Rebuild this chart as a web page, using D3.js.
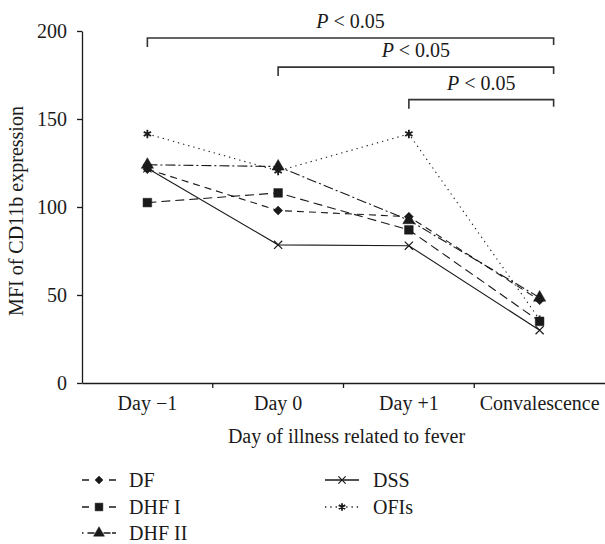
<!DOCTYPE html>
<html>
<head>
<meta charset="utf-8">
<script src="https://cdn.jsdelivr.net/npm/d3@7"></script>
<style>
  body { margin: 0; background: #fff; }
  svg { display: block; font-family: "Liberation Serif", "Times New Roman", serif; }
</style>
</head>
<body>
<div id="chart"></div>
<script>
// categories and series
var days = ["Day \u22121", "Day 0", "Day +1", "Convalescence"];
var groups = ["DF", "DHF I", "DHF II", "DSS", "OFIs"];
var dfValues    = [121.5, 98, 94.5, 47];
var dhf1Values  = [102.5, 108, 87, 35];
var dhf2Values  = [124, 123, 92.5, 48.5];
var dssValues   = [122, 78.5, 78, 30];
var ofiValues   = [141.5, 120.5, 141.5, 36];
var yTicks = [0, 50, 100, 150, 200];
// significance brackets: from category to Convalescence, level (in y units)
var sigFrom  = ["Day \u22121", "Day 0", "Day +1"];
var sigLevel = [196, 179.5, 161];
var sigLabel = ["< 0.05", "< 0.05", "< 0.05"];

var width = 605, height = 544;
var plotL = 82, plotR = 605, plotT = 31, plotB = 383;
var ink = "#1a1a1a";

var svg = d3.select("#chart").append("svg")
	.attr("width", width)
	.attr("height", height);

var x = d3.scaleBand().domain(days).range([plotL, plotR]);
var y = d3.scaleLinear().domain([0, 200]).range([plotB, plotT]);
var cx = function(d) { return x(d) + x.bandwidth() / 2; };

// styles per group
var dashes  = ["7,5", "9,5", "10,3,2,3", null, "1.3,4"];
var symbols = [d3.symbolSquare, d3.symbolSquare, d3.symbolTriangle, d3.symbolTimes, d3.symbolAsterisk];
var sizes   = [40, 75, 65, 45, 50];
var series  = [dfValues, dhf1Values, dhf2Values, dssValues, ofiValues];

// y axis
var yAxis = svg.append("g")
	.attr("transform", "translate(" + plotL + ",0)")
	.call(d3.axisLeft(y).tickValues(yTicks).tickSize(5).tickPadding(10).tickSizeOuter(0));
yAxis.select(".domain").attr("stroke", ink).attr("stroke-width", 1.3);
yAxis.selectAll(".tick line").attr("stroke", ink).attr("stroke-width", 1.3);
yAxis.selectAll("text").attr("font-size", 20).attr("fill", ink).attr("font-family", "Liberation Serif");

// x axis
var xAxis = svg.append("g")
	.attr("transform", "translate(0," + plotB + ")")
	.call(d3.axisBottom(x).tickSize(0).tickPadding(13));
xAxis.select(".domain").attr("stroke", ink).attr("stroke-width", 1.3);
xAxis.selectAll("text").attr("font-size", 20).attr("fill", ink).attr("font-family", "Liberation Serif");
// ticks at the category boundaries
xAxis.selectAll(".bound")
	.data(days.slice(1))
	.enter().append("line")
	.attr("x1", function(d) { return x(d); })
	.attr("x2", function(d) { return x(d); })
	.attr("y1", 0).attr("y2", 5)
	.attr("stroke", ink).attr("stroke-width", 1.3);

// axis titles
svg.append("text")
	.attr("transform", "translate(23," + ((plotT + plotB) / 2 + 4) + ") rotate(-90)")
	.attr("text-anchor", "middle")
	.attr("font-size", 20)
	.attr("fill", ink)
	.text("MFI of CD11b expression");

svg.append("text")
	.attr("x", (plotL + plotR) / 2 + 3)
	.attr("y", 443)
	.attr("text-anchor", "middle")
	.attr("font-size", 20)
	.attr("fill", ink)
	.text("Day of illness related to fever");

// lines
var line = d3.line()
	.x(function(d, i) { return cx(days[i]); })
	.y(function(d) { return y(d); });

series.forEach(function(vals, s) {
	svg.append("path")
		.datum(vals)
		.attr("d", line)
		.attr("fill", "none")
		.attr("stroke", ink)
		.attr("stroke-width", 1.1)
		.attr("stroke-dasharray", dashes[s]);
});

function drawSymbol(g, s, px, py, k) {
	var sym = d3.symbol().type(symbols[s]).size(sizes[s] * (k || 1));
	var open = (s >= 3);
	g.append("path")
		.attr("d", sym())
		.attr("transform", "translate(" + px + "," + py + ")" + (s == 0 ? " rotate(45)" : ""))
		.attr("fill", open ? "none" : ink)
		.attr("stroke", ink)
		.attr("stroke-width", s == 4 ? 1.8 : open ? 1.2 : 0.5);
}

series.forEach(function(vals, s) {
	vals.forEach(function(v, i) {
		drawSymbol(svg, s, cx(days[i]), y(v));
	});
});

// significance brackets
var endX = cx("Convalescence") + 14;
sigFrom.forEach(function(f, k) {
	var x0 = cx(f), yy = y(sigLevel[k]);
	svg.append("path")
		.attr("d", "M" + x0 + "," + (yy + 9) + "V" + yy + "H" + endX + "V" + (yy + 7))
		.attr("fill", "none")
		.attr("stroke", "#333")
		.attr("stroke-width", 1.6);
	var t = svg.append("text")
		.attr("x", (x0 + endX) / 2)
		.attr("y", yy - 10)
		.attr("text-anchor", "middle")
		.attr("font-size", 20)
		.attr("fill", ink);
	t.append("tspan").attr("font-style", "italic").text("P");
	t.append("tspan").text(" " + sigLabel[k]);
});

// legend: two columns
var legX = [82, 325], legTextX = [129, 373], legY = [480, 507, 533];
var legDash = ["7,20,7", "7,20,7", "1.5,4,7,9,7", null, "1.3,4"];
groups.forEach(function(name, s) {
	var col = s < 3 ? 0 : 1, row = s < 3 ? s : s - 3;
	var g = svg.append("g");
	var x0 = legX[col], x1 = x0 + 34, yy = legY[row];
	g.append("line")
		.attr("x1", x0).attr("x2", x1)
		.attr("y1", yy).attr("y2", yy)
		.attr("stroke", ink)
		.attr("stroke-width", 1.3)
		.attr("stroke-dasharray", legDash[s]);
	drawSymbol(g, s, (x0 + x1) / 2, yy, 0.8);
	g.append("text")
		.attr("x", legTextX[col])
		.attr("y", yy + 7)
		.attr("font-size", 20)
		.attr("fill", ink)
		.text(name);
});
</script>
</body>
</html>
